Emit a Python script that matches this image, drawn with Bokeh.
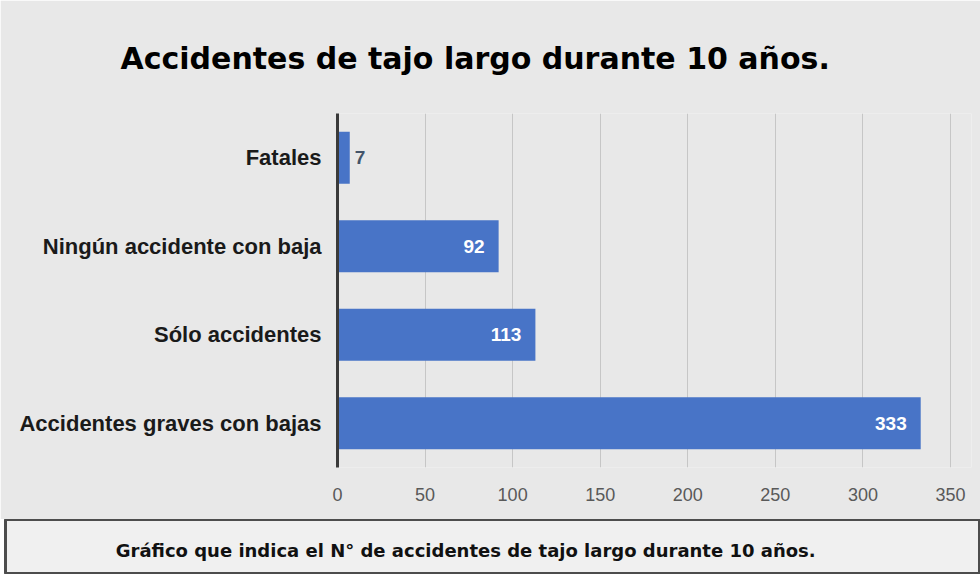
from bokeh.plotting import figure
from bokeh.models import ColumnDataSource, FactorRange, Range1d, SingleIntervalTicker, Title
from bokeh.embed import file_html
from bokeh.resources import INLINE
from bokeh.core.properties import value

# ---- data ----
categories = ["Fatales", "Ningún accidente con baja", "Sólo accidentes", "Accidentes graves con bajas"]
counts = [7, 92, 113, 333]
title_text = "Accidentes de tajo largo durante 10 años."
caption_text = "Gráfico que indica el N° de accidentes de tajo largo durante 10 años."
x_max = 362
tick_step = 50

BG = "#e8e8e8"
BAR = "#4874c7"

factors = list(reversed(categories))
src = ColumnDataSource(dict(cat=categories, n=counts, lbl=[str(v) for v in counts]))

p = figure(width=980, height=519, y_range=FactorRange(*factors), x_range=Range1d(0, x_max),
           output_backend="svg", toolbar_location=None,
           min_border_left=337, min_border_right=9, min_border_top=112, min_border_bottom=52)
p.background_fill_color = BG
p.border_fill_color = BG
p.outline_line_color = None

t = Title(text=title_text, align="left", text_font="DejaVu Sans",
          text_font_size="30px", text_font_style="bold", text_color="#000000",
          standoff=76, offset=-217)
p.add_layout(t, "above")

p.hbar(y="cat", right="n", height=0.59, left=0, source=src, fill_color=BAR, line_color=None)

inside = ColumnDataSource(dict(cat=[c for c, v in zip(categories, counts) if v > 20],
                               n=[v for v in counts if v > 20],
                               lbl=[str(v) for v in counts if v > 20]))
outside = ColumnDataSource(dict(cat=[c for c, v in zip(categories, counts) if v <= 20],
                                n=[v for v in counts if v <= 20],
                                lbl=[str(v) for v in counts if v <= 20]))
p.text(x="n", y="cat", text="lbl", source=inside, text_align="right", text_baseline="middle",
       x_offset=-14, text_color="white", text_font=value("Liberation Sans"),
       text_font_size="19px", text_font_style="bold")
p.text(x="n", y="cat", text="lbl", source=outside, text_align="left", text_baseline="middle",
       x_offset=5, text_color="#44546a", text_font=value("Liberation Sans"),
       text_font_size="19px", text_font_style="bold")

p.xaxis.ticker = SingleIntervalTicker(interval=tick_step)
p.xaxis.axis_line_color = None
p.xaxis.major_tick_line_color = None
p.xaxis.minor_tick_line_color = None
p.xaxis.major_label_standoff = 14
p.xaxis.major_label_text_font = "Liberation Sans"
p.xaxis.major_label_text_font_size = "18px"
p.xaxis.major_label_text_color = "#595959"

p.yaxis.axis_line_color = "#3a3a3a"
p.yaxis.axis_line_width = 3
p.yaxis.major_tick_line_color = None
p.yaxis.minor_tick_line_color = None
p.yaxis.major_label_standoff = 10
p.yaxis.major_label_text_font = "Liberation Sans"
p.yaxis.major_label_text_font_size = "22px"
p.yaxis.major_label_text_font_style = "bold"
p.yaxis.major_label_text_color = "#1a1a1a"

p.xgrid.grid_line_color = "#c6c6c6"
p.xgrid.grid_line_width = 1
p.ygrid.grid_line_color = None

# caption box
c = figure(width=980, height=55, x_range=Range1d(0, 1), y_range=Range1d(0, 1),
           output_backend="svg", toolbar_location=None,
           min_border_left=5, min_border_right=0, min_border_top=0, min_border_bottom=0)
c.axis.visible = False
c.grid.grid_line_color = None
c.background_fill_color = "#f0f0f0"
c.border_fill_color = "#ffffff"
c.outline_line_color = "#4d4d4d"
c.outline_line_width = 3
c.text(x=[0.472], y=[0.44], text=[caption_text], text_align="center", text_baseline="middle",
       text_font=value("DejaVu Sans"), text_font_size="18px", text_font_style="bold",
       text_color="#111111")

open("out.html", "w").write(file_html([p, c], INLINE))
